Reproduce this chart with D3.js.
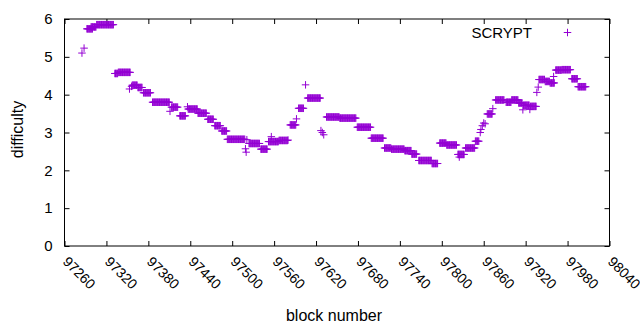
<!DOCTYPE html>
<html>
<head>
<meta charset="utf-8">
<script src="https://cdn.jsdelivr.net/npm/d3@7"></script>
<style>
  body { margin: 0; background: #fff; }
  text { font-family: "Liberation Sans", Arial, sans-serif; fill: #000; }
</style>
</head>
<body>
<div id="chart"></div>
<script>
// difficulty stays flat between retargets, so the series is kept as runs:
// first block, last block, difficulty (single blocks have start == end)
let runStart = [97285, 97288, 97292, 97298, 97306, 97332, 97337, 97353, 97356, 97357,
  97365, 97373, 97386, 97411, 97413, 97425, 97436, 97437, 97451, 97465,
  97475, 97485, 97493, 97519, 97520, 97521, 97524, 97541, 97552, 97556,
  97567, 97580, 97583, 97592, 97595, 97605, 97608, 97627, 97629, 97631,
  97635, 97654, 97679, 97699, 97718, 97728, 97747, 97757, 97767, 97786,
  97797, 97807, 97823, 97825, 97834, 97848, 97855, 97856, 97858, 97860,
  97862, 97865, 97873, 97877, 97892, 97900, 97910, 97916, 97917, 97926,
  97927, 97936, 97938, 97939, 97948, 97955, 97960, 97963, 97972, 97986,
  97995];
let runEnd = [97285, 97288, 97300, 97305, 97330, 97336, 97354, 97353, 97356, 97364,
  97371, 97383, 97410, 97411, 97422, 97433, 97436, 97450, 97463, 97473,
  97483, 97492, 97518, 97519, 97520, 97521, 97539, 97550, 97566, 97556,
  97579, 97580, 97591, 97592, 97602, 97605, 97626, 97627, 97629, 97631,
  97653, 97677, 97698, 97716, 97727, 97746, 97756, 97764, 97785, 97794,
  97806, 97821, 97832, 97825, 97847, 97853, 97855, 97856, 97858, 97860,
  97862, 97872, 97873, 97889, 97899, 97909, 97915, 97916, 97925, 97926,
  97935, 97936, 97938, 97947, 97954, 97961, 97960, 97971, 97984, 97994,
  98006];
let runValue = [5.10, 5.23, 5.74, 5.79, 5.85, 4.56, 4.59, 4.15, 4.22, 4.25,
  4.19, 4.05, 3.80, 3.56, 3.67, 3.44, 3.68, 3.62, 3.51, 3.35,
  3.18, 3.04, 2.82, 2.57, 2.48, 2.81, 2.71, 2.56, 2.76, 2.89,
  2.79, 2.80, 3.20, 3.36, 3.64, 4.26, 3.91, 3.05, 3.00, 2.94,
  3.41, 3.38, 3.14, 2.85, 2.59, 2.56, 2.52, 2.43, 2.26, 2.18,
  2.72, 2.67, 2.42, 2.35, 2.59, 2.77, 3.00, 3.08, 3.18, 3.25,
  3.23, 3.49, 3.63, 3.86, 3.80, 3.86, 3.78, 3.60, 3.72, 3.61,
  3.69, 4.06, 4.20, 4.40, 4.35, 4.31, 4.48, 4.65, 4.66, 4.42,
  4.21];

let xTicks = d3.range(97260, 98041, 60);
let yTicks = [0, 1, 2, 3, 4, 5, 6];
let seriesName = "SCRYPT";

let svgWidth = 640;
let svgHeight = 330;
let chartMargin = { top: 19, right: 30.5, bottom: 84, left: 64.5 };
let chartWidth = svgWidth - chartMargin.left - chartMargin.right;
let chartHeight = svgHeight - chartMargin.top - chartMargin.bottom;
let purple = "#9400d3";

let svg = d3.select("#chart")
  .append("svg")
  .attr("width", svgWidth)
  .attr("height", svgHeight);

let chartGroup = svg.append("g")
  .attr("transform", `translate(${chartMargin.left}, ${chartMargin.top})`);

let xScale = d3.scaleLinear().domain([97260, 98040]).range([0, chartWidth]);
let yScale = d3.scaleLinear().domain([0, 6]).range([chartHeight, 0]);

// one point per block inside each run
let points = [];
for (let i = 0; i < runStart.length; i++) {
  for (let b = runStart[i]; b <= runEnd[i]; b++) {
    points.push({ block: b, difficulty: runValue[i] });
  }
}

// axes, ticks pointing inwards, mirrored on top and right
let bottomAxis = d3.axisBottom(xScale).tickValues(xTicks).tickSize(-5).tickFormat("");
let topAxis = d3.axisTop(xScale).tickValues(xTicks).tickSize(-5).tickFormat("");
let leftAxis = d3.axisLeft(yScale).tickValues(yTicks).tickSize(-5).tickFormat("");
let rightAxis = d3.axisRight(yScale).tickValues(yTicks).tickSize(-5).tickFormat("");

chartGroup.append("g").attr("transform", `translate(0, ${chartHeight})`).call(bottomAxis);
chartGroup.append("g").call(topAxis);
chartGroup.append("g").call(leftAxis);
chartGroup.append("g").attr("transform", `translate(${chartWidth}, 0)`).call(rightAxis);
chartGroup.selectAll(".domain").remove();

chartGroup.append("rect")
  .attr("x", 0).attr("y", 0)
  .attr("width", chartWidth).attr("height", chartHeight)
  .attr("fill", "none").attr("stroke", "#000").attr("stroke-width", 1);

chartGroup.selectAll(".tick line").attr("stroke", "#000");

// tick labels
chartGroup.append("g")
  .selectAll("text")
  .data(xTicks)
  .enter()
  .append("text")
  .attr("transform", d => `translate(${xScale(d) + 1}, ${chartHeight + 13}) rotate(45)`)
  .attr("dy", "0.35em")
  .attr("font-size", 14)
  .text(d => d);

chartGroup.append("g")
  .selectAll("text")
  .data(yTicks)
  .enter()
  .append("text")
  .attr("x", -12)
  .attr("y", d => yScale(d))
  .attr("dy", "0.35em")
  .attr("text-anchor", "end")
  .attr("font-size", 15)
  .text(d => d);

// axis titles
svg.append("text")
  .attr("x", chartMargin.left + chartWidth / 2 - 3)
  .attr("y", 321)
  .attr("text-anchor", "middle")
  .attr("font-size", 16)
  .text("block number");

svg.append("text")
  .attr("transform", `translate(23, ${chartMargin.top + chartHeight / 2 - 3}) rotate(-90)`)
  .attr("text-anchor", "middle")
  .attr("font-size", 16)
  .text("difficulty");

// points
function plusPath(x, y) {
  let h = 3.75;
  return `M${x - h},${y}H${x + h}M${x},${y - h}V${y + h}`;
}

chartGroup.append("path")
  .attr("d", points.map(d => plusPath(xScale(d.block), yScale(d.difficulty))).join(""))
  .attr("fill", "none")
  .attr("stroke", purple)
  .attr("stroke-width", 1);

// legend
svg.append("text")
  .attr("x", 532)
  .attr("y", 32.5)
  .attr("dy", "0.35em")
  .attr("text-anchor", "end")
  .attr("font-size", 15)
  .text(seriesName);

svg.append("path")
  .attr("d", plusPath(567.5, 32.5))
  .attr("stroke", purple)
  .attr("stroke-width", 1);
</script>
</body>
</html>
